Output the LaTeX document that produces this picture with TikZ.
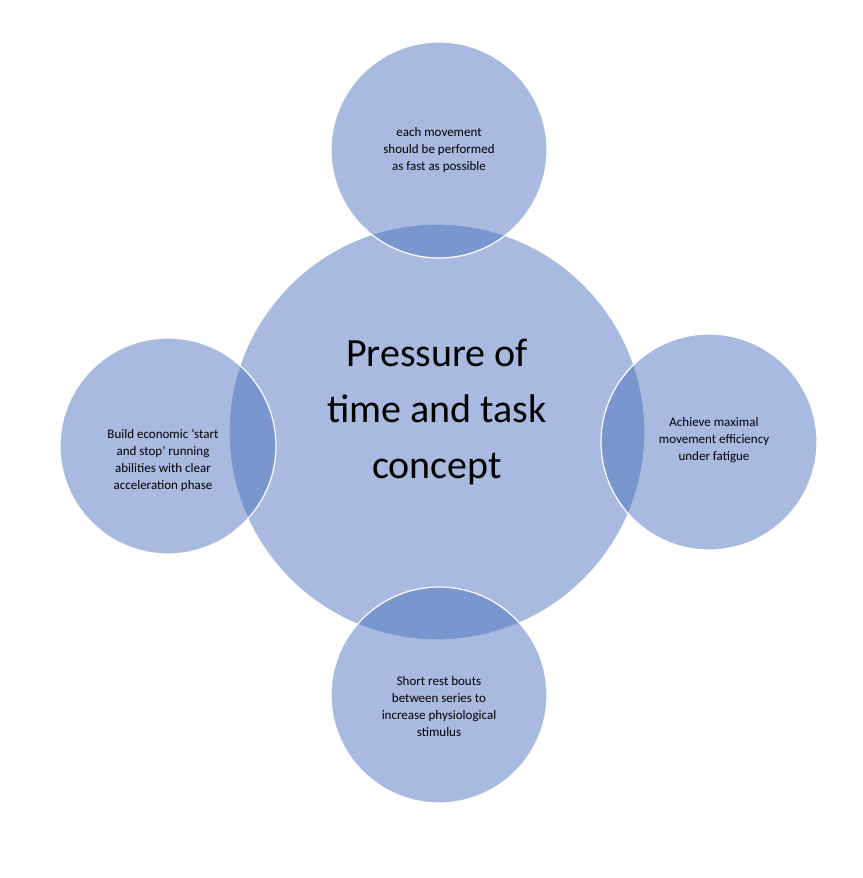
\documentclass[tikz,border=0pt]{standalone}
\usepackage{fontspec}
\setmainfont{Carlito}
\definecolor{cblue}{RGB}{70,109,188}
\begin{document}
\begin{tikzpicture}[x=1pt,y=-1pt,
  circ/.style={circle,fill=cblue,fill opacity=0.465,draw=white,draw opacity=1,line width=1.2pt,inner sep=0pt},
  small/.style={align=center,font=\fontsize{13}{17}\selectfont,text=black}]
\useasboundingbox[fill=white] (0,0) rectangle (862,878);
\node[circ,minimum size=416pt] (c) at (437,432) {};
\node[circ,minimum size=216pt] (t) at (439,150) {};
\node[circ,minimum size=216pt] (l) at (168,446) {};
\node[circ,minimum size=216pt] (r) at (709,442) {};
\node[circ,minimum size=216pt] (b) at (439,695) {};
\node[align=center,font=\fontsize{40}{56}\selectfont] (ct) at (437,412) {Pressure of\\time and task\\concept};
\node[small] (tt) at (t) {each movement\\should be performed\\as fast as possible};
\node[small] (lt) at (163,460) {Build economic ‘start\\and stop’ running\\abilities with clear\\acceleration phase};
\node[small] (rt) at (714,440) {Achieve maximal\\movement efficiency\\under fatigue};
\node[small] (bt) at (439,707) {Short rest bouts\\between series to\\increase physiological\\stimulus};
\end{tikzpicture}
\end{document}
